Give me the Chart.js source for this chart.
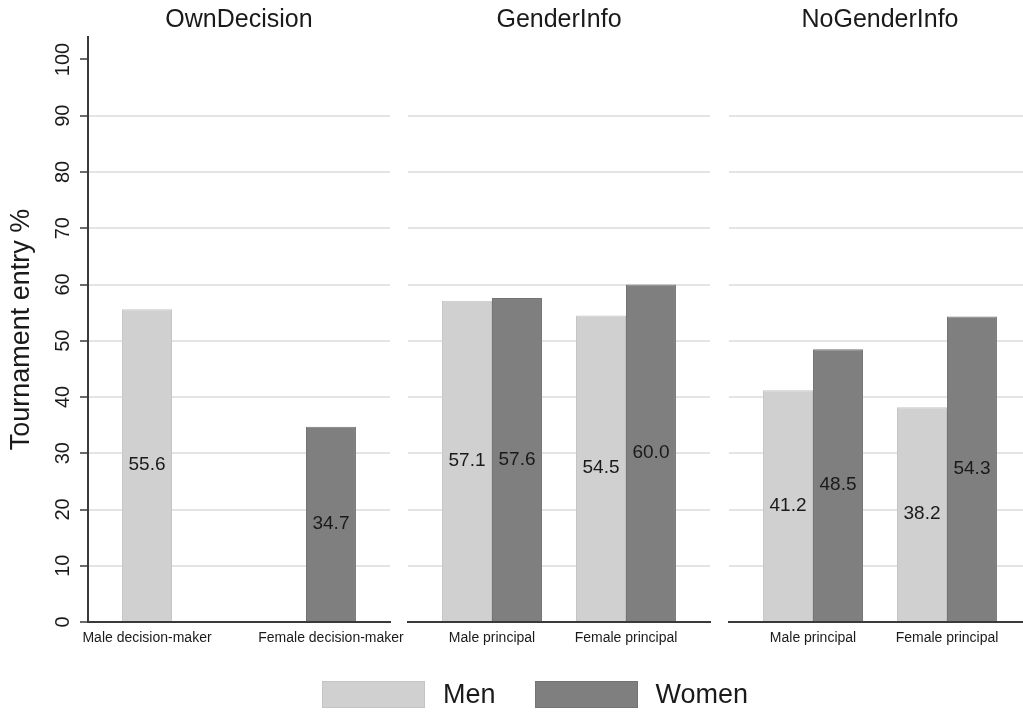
<!DOCTYPE html>
<html>
<head>
<meta charset="utf-8">
<script src="https://cdn.jsdelivr.net/npm/chart.js@4.4.1/dist/chart.umd.min.js"></script>
<style>
  html, body { margin: 0; padding: 0; background: #fff; overflow: hidden; }
  #wrap { position: relative; width: 1023px; height: 713px; overflow: hidden; }
  #wrap canvas { position: absolute; left: 0; top: 0; }
  #legend { position: absolute; left: 322px; top: 681px; display: flex; align-items: center;
            font-family: "Liberation Sans", Arial, sans-serif; font-size: 27px; color: #1a1a1a; }
  #legend .box { width: 103px; height: 27px; margin-right: 18px; box-sizing: border-box; }
  #legend .txt { margin-right: 39px; line-height: 27px; }
</style>
</head>
<body>
<div id="wrap">
  <canvas id="panel1" width="1040" height="713"></canvas>
  <canvas id="panel2" width="1040" height="713"></canvas>
  <canvas id="panel3" width="1040" height="713"></canvas>
  <div id="legend"></div>
</div>
<script>
  // data
  const panelTitles = ["OwnDecision", "GenderInfo", "NoGenderInfo"];
  const ownCategories = ["Male decision-maker", "Female decision-maker"];
  const principalCategories = ["Male principal", "Female principal"];
  const seriesNames = ["Men", "Women"];
  const ownMen = [55.6, null];
  const ownWomen = [null, 34.7];
  const genderMen = [57.1, 54.5];
  const genderWomen = [57.6, 60.0];
  const noGenderMen = [41.2, 38.2];
  const noGenderWomen = [48.5, 54.3];
  const yTickValues = [0, 10, 20, 30, 40, 50, 60, 70, 80, 90, 100];
  const yTitle = "Tournament entry %";

  const seriesColors = ["#d0d0d0", "#7f7f7f"];
  const fontFamily = "'Liberation Sans', Arial, sans-serif";

  const panelDecor = {
    id: "panelDecor",
    afterDatasetsDraw(chart, args, opts) {
      const { ctx, chartArea } = chart;
      ctx.save();
      ctx.textAlign = "center";
      ctx.textBaseline = "middle";
      ctx.fillStyle = "#1a1a1a";

      // value labels in the middle of each bar
      ctx.font = `19px ${fontFamily}`;
      chart.data.datasets.forEach((ds, di) => {
        chart.getDatasetMeta(di).data.forEach((bar, i) => {
          const v = ds.data[i].y;
          if (v == null) return;
          ctx.fillText(v.toFixed(1), bar.x, (bar.y + bar.base) / 2);
        });
      });

      // category labels, centred under the bars that exist
      ctx.font = `14px ${fontFamily}`;
      opts.categories.forEach((label, i) => {
        const xs = [];
        chart.data.datasets.forEach((ds, di) => {
          if (ds.data[i].y != null) xs.push(chart.getDatasetMeta(di).data[i].x);
        });
        if (!xs.length) return;
        const x = xs.reduce((a, b) => a + b, 0) / xs.length;
        ctx.fillText(label, x, chartArea.bottom + 16);
      });

      // panel title
      ctx.font = `25px ${fontFamily}`;
      ctx.fillText(opts.title, (chartArea.left + chartArea.right) / 2, 20);

      // y axis labels (rotated, Stata style)
      if (opts.showY) {
        const yScale = chart.scales.y;
        ctx.font = `20px ${fontFamily}`;
        yScale.ticks.forEach((t) => {
          ctx.save();
          ctx.translate(chartArea.left - 25, yScale.getPixelForValue(t.value));
          ctx.rotate(-Math.PI / 2);
          ctx.fillText(String(t.value), 0, 0);
          ctx.restore();
        });
        ctx.save();
        ctx.font = `27px ${fontFamily}`;
        ctx.translate(22, (chartArea.top + chartArea.bottom) / 2);
        ctx.rotate(-Math.PI / 2);
        ctx.fillText(yTitle, 0, 0);
        ctx.restore();
      }
      ctx.restore();
    },
  };

  const toPoints = (values) => values.map((v, i) => ({ x: i, y: v }));

  const makePanel = (canvasId, title, categories, men, women, padding, showY) => {
    const el = document.getElementById(canvasId);
    return new Chart(el, {
      type: "bar",
      data: {
        datasets: [
          { label: seriesNames[0], data: toPoints(men), backgroundColor: seriesColors[0],
            borderColor: "#c4c4c4", borderWidth: 1 },
          { label: seriesNames[1], data: toPoints(women), backgroundColor: seriesColors[1],
            borderColor: "#747474", borderWidth: 1 },
        ],
      },
      options: {
        responsive: false,
        animation: false,
        devicePixelRatio: 1,
        categoryPercentage: 0.746,
        barPercentage: 1,
        layout: { padding },
        plugins: {
          legend: { display: false },
          tooltip: { enabled: false },
          panelDecor: { title, categories, showY },
        },
        scales: {
          x: {
            type: "linear",
            min: -0.627,
            max: 1.627,
            offset: false,
            afterBuildTicks: (scale) => {
              scale.ticks = categories.map((c, i) => ({ value: i }));
            },
            grid: { display: false, drawTicks: false },
            ticks: { display: false },
            border: { display: true, color: "#3a3a3a", width: 2 },
          },
          y: {
            min: 0,
            max: 104,
            afterBuildTicks: (scale) => {
              scale.ticks = yTickValues.map((value) => ({ value }));
            },
            ticks: { display: false },
            grid: {
              color: (c) => (c.tick && c.tick.value > 0 && c.tick.value < 100 ? "#e4e4e4" : "rgba(0,0,0,0)"),
              lineWidth: 2,
              drawTicks: showY,
              tickLength: 8,
              tickColor: "#3a3a3a",
              tickWidth: 1.5,
            },
            border: { display: showY, color: "#3a3a3a", width: 2 },
          },
        },
      },
      plugins: [panelDecor],
    });
  };

  makePanel("panel1", panelTitles[0], ownCategories, ownMen, ownWomen,
    { left: 80, right: 650, top: 37, bottom: 91 }, true);
  makePanel("panel2", panelTitles[1], principalCategories, genderMen, genderWomen,
    { left: 408, right: 330, top: 37, bottom: 91 }, false);
  makePanel("panel3", panelTitles[2], principalCategories, noGenderMen, noGenderWomen,
    { left: 729, right: 9, top: 37, bottom: 91 }, false);

  // legend
  const legendEl = document.getElementById("legend");
  seriesNames.forEach((name, i) => {
    const box = document.createElement("span");
    box.className = "box";
    box.style.background = seriesColors[i];
    box.style.border = `1px solid ${i === 0 ? "#c4c4c4" : "#747474"}`;
    const txt = document.createElement("span");
    txt.className = "txt";
    txt.textContent = name;
    legendEl.appendChild(box);
    legendEl.appendChild(txt);
  });
</script>
</body>
</html>
